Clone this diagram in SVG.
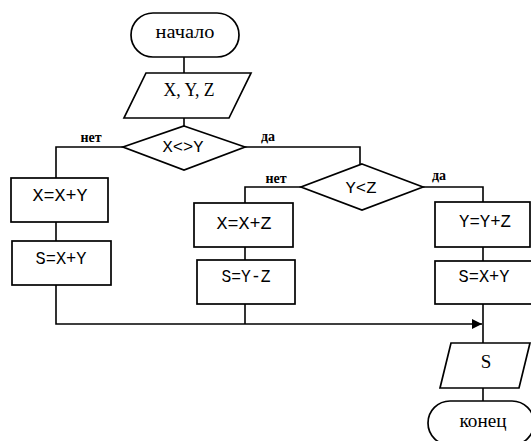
<svg xmlns="http://www.w3.org/2000/svg" width="531" height="441" viewBox="0 0 531 441">
<defs>
<style>
.s{fill:#fff;stroke:#000;stroke-width:1.7}
.c{fill:none;stroke:#000;stroke-width:1.6}
text{fill:#000;text-anchor:middle;font-family:'Liberation Serif','DejaVu Serif',serif}
.t{font-size:19px}
.m{font-size:19px;font-family:'Liberation Mono','DejaVu Sans Mono',monospace}
.d{font-size:17px;font-family:'Liberation Mono','DejaVu Sans Mono',monospace}
.l{font-size:14px;font-weight:bold}
</style>
<marker id="arr" viewBox="0 0 10 10" refX="10" refY="5" markerWidth="10" markerHeight="10" markerUnits="userSpaceOnUse" orient="auto">
<path d="M0,0 L10,5 L0,10 Z" fill="#000"/>
</marker>
</defs>
<rect width="531" height="441" fill="#fff"/>
<g id="connectors">
<line class="c" x1="184" y1="57" x2="184" y2="73"/>
<line class="c" x1="184" y1="118" x2="184" y2="126"/>
<polyline class="c" points="123,147 56,147 56,178"/>
<line class="c" x1="56" y1="222" x2="56" y2="241"/>
<polyline class="c" points="245,147 360,147 360,164"/>
<polyline class="c" points="301,187 245,187 245,203"/>
<line class="c" x1="245" y1="247" x2="245" y2="260"/>
<line class="c" x1="245" y1="304" x2="245" y2="324"/>
<polyline class="c" points="423,187 483,187 483,202"/>
<line class="c" x1="483" y1="247" x2="483" y2="261"/>
<line class="c" x1="483" y1="304" x2="483" y2="343"/>
<polyline class="c" points="56,285 56,324 482,324" marker-end="url(#arr)"/>
<line class="c" x1="483" y1="388" x2="483" y2="401"/>
<text class="l" x="91" y="142">нет</text>
<text class="l" x="268" y="141">да</text>
<text class="l" x="276" y="183">нет</text>
<text class="l" x="439" y="180">да</text>
</g>
<g id="start">
<rect class="s" x="131" y="13" width="108" height="44" rx="22" ry="22"/>
<text class="t" x="185" y="38" textLength="59" lengthAdjust="spacingAndGlyphs">начало</text>
</g>
<g id="input">
<polygon class="s" points="146,73 251,73 229,118 124,118"/>
<text class="t" x="189" y="96" textLength="51" lengthAdjust="spacingAndGlyphs">X, Y, Z</text>
</g>
<g id="cond1">
<polygon class="s" points="184,126 245,147 184,170 123,147"/>
<text class="d" x="183" y="152" textLength="41" lengthAdjust="spacingAndGlyphs">X&lt;&gt;Y</text>
</g>
<g id="box1">
<rect class="s" x="11" y="178" width="97" height="44"/>
<text class="m" x="60" y="201" textLength="55" lengthAdjust="spacingAndGlyphs">X=X+Y</text>
</g>
<g id="box2">
<rect class="s" x="12" y="241" width="99" height="44"/>
<text class="m" x="61" y="264" textLength="51" lengthAdjust="spacingAndGlyphs">S=X+Y</text>
</g>
<g id="cond2">
<polygon class="s" points="362,164 423,187 362,210 301,187"/>
<text class="d" x="361" y="193" textLength="31" lengthAdjust="spacingAndGlyphs">Y&lt;Z</text>
</g>
<g id="box3">
<rect class="s" x="194" y="203" width="99" height="44"/>
<text class="m" x="244" y="229" textLength="55" lengthAdjust="spacingAndGlyphs">X=X+Z</text>
</g>
<g id="box4">
<rect class="s" x="197" y="260" width="98" height="44"/>
<text class="m" x="246" y="282" textLength="49" lengthAdjust="spacingAndGlyphs">S=Y-Z</text>
</g>
<g id="box5">
<rect class="s" x="435" y="202" width="95" height="45"/>
<text class="m" x="485" y="227" textLength="52" lengthAdjust="spacingAndGlyphs">Y=Y+Z</text>
</g>
<g id="box6">
<rect class="s" x="435" y="261" width="98" height="43"/>
<text class="m" x="484" y="282" textLength="51" lengthAdjust="spacingAndGlyphs">S=X+Y</text>
</g>
<g id="output">
<polygon class="s" points="451,343 530,343 519,388 440,388"/>
<text class="t" x="486" y="368">S</text>
</g>
<g id="end">
<rect class="s" x="428" y="401" width="106" height="44" rx="22" ry="22"/>
<text class="t" x="483" y="427" textLength="47" lengthAdjust="spacingAndGlyphs">конец</text>
</g>
</svg>
